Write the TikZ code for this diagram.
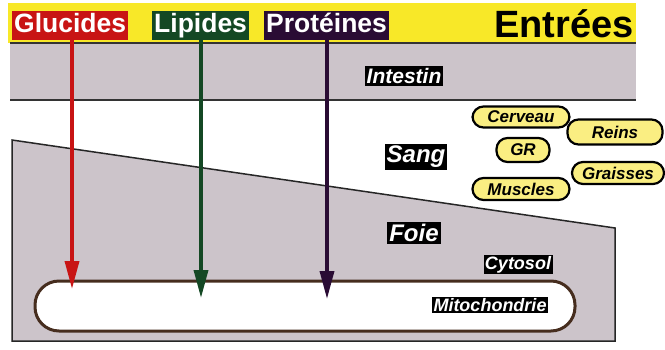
\documentclass[tikz,border=0pt]{standalone}
\usepackage{fontspec}
\setmainfont{Liberation Sans}
\usetikzlibrary{arrows.meta}
\definecolor{bandyellow}{RGB}{248,232,40}
\definecolor{bandgray}{RGB}{204,196,202}
\definecolor{gluc}{RGB}{200,20,20}
\definecolor{lipi}{RGB}{20,72,36}
\definecolor{prot}{RGB}{42,12,52}
\definecolor{orgfill}{RGB}{250,238,130}
\definecolor{mitoline}{RGB}{70,45,30}
\tikzset{
  entry/.style={text=white, font=\bfseries\fontsize{26.5}{26.5}\selectfont, inner sep=2pt, text height=19.5pt, text depth=5.5pt, anchor=west},
  lab/.style={fill=black, text=white, inner sep=2pt},
  org/.style={draw=black, fill=orgfill, line width=2.2pt, rounded corners=11pt, inner sep=0pt, font=\bfseries\itshape\fontsize{17}{17}\selectfont},
  flow/.style={line width=3.5pt, -{Triangle[length=28pt,width=14pt]}},
}
\begin{document}
\begin{tikzpicture}[x=1pt,y=-1pt]
\useasboundingbox[fill=white] (0,0) rectangle (665,349);
% bands
\fill[bandyellow] (8,3) rectangle (636,43);
\fill[bandgray] (10,43) rectangle (636,100);
\draw[line width=1.5pt, black!80] (10,43) -- (636,43);
\draw[line width=1.5pt, black!80] (10,100) -- (636,100);
% liver trapezoid
\draw[fill=bandgray, line width=1.5pt, draw=black!85] (12,140) -- (615,228) -- (615,341) -- (12,341) -- cycle;
% mitochondrie
\draw[fill=white, draw=mitoline, line width=3pt, rounded corners=24pt] (35,281) rectangle (575,331);
% labels of inputs
\node[entry, fill=gluc] (glu) at (12,25.5) {Glucides};
\node[entry, fill=lipi] (lip) at (152,25.5) {Lipides};
\node[entry, fill=prot] (pro) at (264,25.5) {Protéines};
\node[anchor=east, font=\bfseries\fontsize{38}{38}\selectfont, inner sep=0pt] (ent) at (634,24) {Entrées};
% region labels
\node[lab, font=\bfseries\itshape\fontsize{21}{21}\selectfont] (int) at (404,76) {Intestin};
\node[lab, font=\bfseries\itshape\fontsize{24}{24}\selectfont] (sang) at (416,157) {Sang};
\node[lab, font=\bfseries\itshape\fontsize{24}{24}\selectfont] (foie) at (414,233) {Foie};
\node[lab, inner sep=1.5pt, font=\bfseries\itshape\fontsize{18}{18}\selectfont] (cyto) at (518,264.5) {Cytosol};
\node[lab, inner sep=1.5pt, font=\bfseries\itshape\fontsize{18}{18}\selectfont] (mito) at (490,305) {Mitochondrie};
% organs
\node[org, minimum width=97pt, minimum height=21pt] (cer) at (521,117) {Cerveau};
\node[org, minimum width=95pt, minimum height=25pt] (rei) at (615,132) {Reins};
\node[org, minimum width=53pt, minimum height=24pt] (gr) at (523,150) {GR};
\node[org, minimum width=92pt, minimum height=22pt] (gra) at (618,173) {Graisses};
\node[org, minimum width=97pt, minimum height=22pt] (mus) at (521,189) {Muscles};
% arrows
\coordinate (tg) at (72,289);
\coordinate (tl) at (201,298);
\coordinate (tp) at (327,299);
\draw[flow, gluc] (glu.south -| tg) -- (tg);
\draw[flow, lipi] (lip.south -| tl) -- (tl);
\draw[flow, prot] (pro.south -| tp) -- (tp);
\end{tikzpicture}
\end{document}
